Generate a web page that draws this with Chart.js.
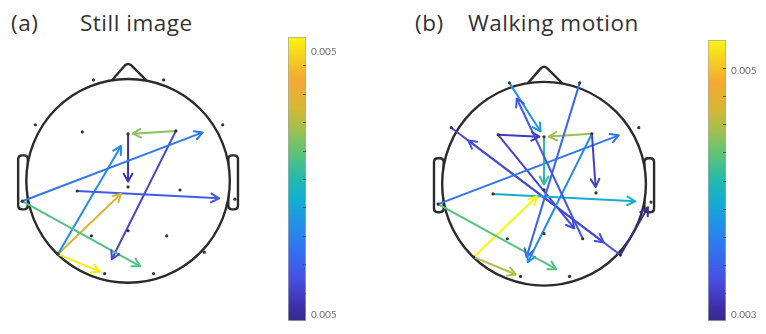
<!DOCTYPE html>
<html>
<head>
<meta charset="utf-8">
<script src="https://cdn.jsdelivr.net/npm/chart.js@4.4.1/dist/chart.umd.min.js"></script>
<style>
  body { margin: 0; background: #fff; }
  #wrap { position: relative; width: 766px; height: 334px; overflow: hidden; background: #fff; }
  #wrap canvas { position: absolute; }
  .title { position: absolute; font-family: "Open Sans", Lato, sans-serif; font-size: 22.5px; letter-spacing: 0.5px; line-height: 26px; color: #333; white-space: nowrap; }
</style>
</head>
<body>
<div id="wrap">
  <div class="title" style="left:11px; top:10px;">(a)</div>
  <div class="title" style="left:80px; top:10px;">Still image</div>
  <div class="title" style="left:415px; top:10px;">(b)</div>
  <div class="title" style="left:468px; top:10px;">Walking motion</div>
  <canvas id="headA" width="260" height="270" style="left:0px; top:40px;"></canvas>
  <canvas id="barA" width="70" height="306" style="left:282px; top:26px;"></canvas>
  <canvas id="headB" width="270" height="270" style="left:410px; top:40px;"></canvas>
  <canvas id="barB" width="70" height="303" style="left:702px; top:29px;"></canvas>
</div>
<script>
// Electrode layout (head centre = 0,0, head radius = 1)
const electrodeNames = ['Fp1', 'Fp2', 'F7', 'F3', 'Fz', 'F4', 'F8', 'T3', 'C3', 'Cz', 'C4', 'T4', 'T5', 'P3', 'Pz', 'P4', 'T6', 'O1', 'O2'];
const electrodeX = [-0.34, 0.35, -0.91, -0.45, 0.0, 0.47, 0.93, -1.04, -0.50, 0.0, 0.51, 1.05, -0.69, -0.36, 0.0, 0.38, 0.75, -0.23, 0.25];
const electrodeY = [0.99, 0.99, 0.55, 0.48, 0.46, 0.49, 0.55, -0.20, -0.10, -0.06, -0.09, -0.18, -0.72, -0.54, -0.49, -0.54, -0.70, -0.91, -0.91];

// (a) Still image
const fromA = ['T3', 'C3', 'T3', 'T5', 'T5', 'T5', 'F4', 'F4', 'Fz'];
const toA = ['F8', 'T4', 'O2', 'Fz', 'Cz', 'O1', 'O1', 'Fz', 'Cz'];
const valueA = [0.004765, 0.004676, 0.005059, 0.004823, 0.005245, 0.00546, 0.004618, 0.005137, 0.004559];
const rangeA = [0.0045, 0.00548];
const ticksA = [0.00452, 0.00543];

// (b) Walking motion
const fromB = ['Fp1', 'P4', 'Fp2', 'F4', 'F4', 'F4', 'Fz', 'T3', 'C3', 'T3', 'T5', 'T5', 'F3', 'F3', 'F7', 'T6', 'T6'];
const toB = ['Fz', 'Fp1', 'O1', 'O1', 'C4', 'Fz', 'Cz', 'F8', 'T4', 'O2', 'Cz', 'O1', 'Fz', 'P4', 'T6', 'F7', 'T4'];
const valueB = [0.003755, 0.003341, 0.003456, 0.003709, 0.00318, 0.004491, 0.004146, 0.003548, 0.003962, 0.004284, 0.00525, 0.00456, 0.003134, 0.003226, 0.003249, 0.003272, 0.003019];
const rangeB = [0.00295, 0.00525];
const ticksB = [0.003, 0.005];

// parula-like colour map
const cmap = [
  [0.00, [53, 42, 135]], [0.05, [61, 47, 169]], [0.15, [71, 80, 227]], [0.25, [50, 113, 241]],
  [0.35, [33, 147, 230]], [0.43, [18, 175, 208]], [0.50, [34, 185, 174]], [0.58, [85, 194, 126]],
  [0.68, [163, 192, 76]], [0.75, [214, 183, 53]], [0.85, [243, 169, 50]], [1.00, [249, 245, 15]]
];

function colourAt(f) {
  f = Math.max(0, Math.min(1, f));
  for (let i = 1; i < cmap.length; i++) {
    if (f <= cmap[i][0]) {
      const [f0, c0] = cmap[i - 1], [f1, c1] = cmap[i];
      const t = (f - f0) / (f1 - f0);
      const c = c0.map((v, k) => Math.round(v + (c1[k] - v) * t));
      return 'rgb(' + c.join(',') + ')';
    }
  }
  return 'rgb(249,245,15)';
}

// head outline, nose and ears drawn on the chart scales
const headOutline = {
  id: 'headOutline',
  beforeDatasetsDraw(chart) {
    const ctx = chart.ctx, xs = chart.scales.x, ys = chart.scales.y;
    const px = v => xs.getPixelForValue(v), py = v => ys.getPixelForValue(v);
    ctx.save();
    ctx.strokeStyle = '#2b2b2b';
    ctx.lineWidth = 2.4;
    ctx.lineJoin = 'round';
    // ears
    [[-1.08, -0.985], [0.985, 1.08]].forEach(([a, b]) => {
      const x0 = px(a), x1 = px(b), y0 = py(0.25), y1 = py(-0.28);
      const r = 4;
      ctx.beginPath();
      ctx.moveTo(x0 + r, y0);
      ctx.lineTo(x1 - r, y0);
      ctx.quadraticCurveTo(x1, y0, x1, y0 + r);
      ctx.lineTo(x1, y1 - r);
      ctx.quadraticCurveTo(x1, y1, x1 - r, y1);
      ctx.lineTo(x0 + r, y1);
      ctx.quadraticCurveTo(x0, y1, x0, y1 - r);
      ctx.lineTo(x0, y0 + r);
      ctx.quadraticCurveTo(x0, y0, x0 + r, y0);
      ctx.fillStyle = '#fff';
      ctx.fill();
      ctx.stroke();
    });
    // nose
    ctx.beginPath();
    ctx.moveTo(px(-0.16), py(0.985));
    ctx.lineTo(px(-0.03), py(1.135));
    ctx.quadraticCurveTo(px(0.0), py(1.16), px(0.03), py(1.135));
    ctx.lineTo(px(0.18), py(0.985));
    ctx.fillStyle = '#fff';
    ctx.fill();
    ctx.stroke();
    // head circle
    ctx.beginPath();
    ctx.ellipse(px(0), py(0), px(1) - px(0), py(0) - py(1), 0, 0, Math.PI * 2);
    ctx.fillStyle = '#fff';
    ctx.fill();
    ctx.stroke();
    ctx.restore();
  },
  afterDatasetsDraw(chart) {
    const ctx = chart.ctx;
    chart.data.datasets.forEach((ds, i) => {
      if (!ds.arrow) return;
      const pts = chart.getDatasetMeta(i).data;
      const a = pts[0], b = pts[1];
      const ang = Math.atan2(b.y - a.y, b.x - a.x);
      const len = 9, spread = 0.5;
      ctx.save();
      ctx.strokeStyle = ds.borderColor;
      ctx.lineWidth = 2;
      ctx.lineCap = 'round';
      ctx.lineJoin = 'round';
      ctx.beginPath();
      ctx.moveTo(b.x - len * Math.cos(ang - spread), b.y - len * Math.sin(ang - spread));
      ctx.lineTo(b.x, b.y);
      ctx.lineTo(b.x - len * Math.cos(ang + spread), b.y - len * Math.sin(ang + spread));
      ctx.stroke();
      ctx.restore();
    });
  }
};

function makeHead(id, from, to, values, range, cx, cy, r, w, h) {
  const datasets = [];
  from.forEach((name, i) => {
    const a = electrodeNames.indexOf(name), b = electrodeNames.indexOf(to[i]);
    const x0 = electrodeX[a], y0 = electrodeY[a];
    // arrow tip stops short of the target electrode
    const x1 = x0 + (electrodeX[b] - x0) * 0.9, y1 = y0 + (electrodeY[b] - y0) * 0.9;
    const f = (values[i] - range[0]) / (range[1] - range[0]);
    datasets.push({
      data: [{ x: x0, y: y0 }, { x: x1, y: y1 }],
      showLine: true, arrow: true, borderColor: colourAt(f), borderWidth: 2,
      pointRadius: 0, clip: false, order: 2
    });
  });
  datasets.push({
    data: electrodeNames.map((n, i) => ({ x: electrodeX[i], y: electrodeY[i] })),
    pointRadius: 1.6, pointBackgroundColor: '#333', pointBorderWidth: 0, clip: false, order: 1
  });
  return new Chart(document.getElementById(id), {
    type: 'scatter',
    data: { datasets },
    options: {
      responsive: false,
      animation: false,
      events: [],
      layout: { padding: 0 },
      plugins: { legend: { display: false }, tooltip: { enabled: false } },
      scales: {
        x: { type: 'linear', display: false, min: -cx / r, max: (w - cx) / r },
        y: { type: 'linear', display: false, min: -(h - cy) / r, max: cy / r }
      }
    },
    plugins: [headOutline]
  });
}

// colour bar ticks inside the bar
const barTicks = {
  id: 'barTicks',
  afterDatasetsDraw(chart) {
    const ctx = chart.ctx, ca = chart.chartArea;
    ctx.save();
    ctx.strokeStyle = '#555';
    ctx.lineWidth = 1;
    for (let i = 1; i < 10; i++) {
      const y = Math.round(ca.top + (ca.bottom - ca.top) * i / 10) + 0.5;
      ctx.beginPath();
      ctx.moveTo(ca.right - 3, y);
      ctx.lineTo(ca.right, y);
      ctx.stroke();
    }
    ctx.restore();
  }
};

function makeBar(id, range, tickValues) {
  return new Chart(document.getElementById(id), {
    type: 'bar',
    data: {
      labels: [''],
      datasets: [{
        data: [[range[0], range[1]]],
        backgroundColor(c) {
          const ca = c.chart.chartArea;
          if (!ca) return '#888';
          const g = c.chart.ctx.createLinearGradient(0, ca.bottom, 0, ca.top);
          cmap.forEach(([f, col]) => g.addColorStop(f, 'rgb(' + col.join(',') + ')'));
          return g;
        },
        borderColor: '#a8a8a8',
        borderWidth: 1,
        borderSkipped: false,
        barPercentage: 1,
        categoryPercentage: 1
      }]
    },
    options: {
      responsive: false,
      animation: false,
      events: [],
      layout: { padding: { left: 6, top: 6, bottom: 1, right: 0 } },
      plugins: { legend: { display: false }, tooltip: { enabled: false } },
      scales: {
        x: { display: false },
        y: {
          position: 'right',
          min: range[0],
          max: range[1],
          grid: { display: false, drawTicks: false },
          border: { display: false },
          afterBuildTicks(s) { s.ticks = tickValues.map(v => ({ value: v })); },
          afterFit(s) { s.width = 46; },
          ticks: {
            padding: 5,
            color: '#6a6a6a',
            font: { family: 'Lato, "Open Sans", sans-serif', size: 10 },
            callback: v => v.toFixed(3)
          }
        }
      }
    },
    plugins: [barTicks]
  });
}

makeHead('headA', fromA, toA, valueA, rangeA, 128, 141, 105, 260, 270);
makeBar('barA', rangeA, ticksA);
makeHead('headB', fromB, toB, valueB, rangeB, 134, 144, 105, 270, 270);
makeBar('barB', rangeB, ticksB);
</script>
</body>
</html>
